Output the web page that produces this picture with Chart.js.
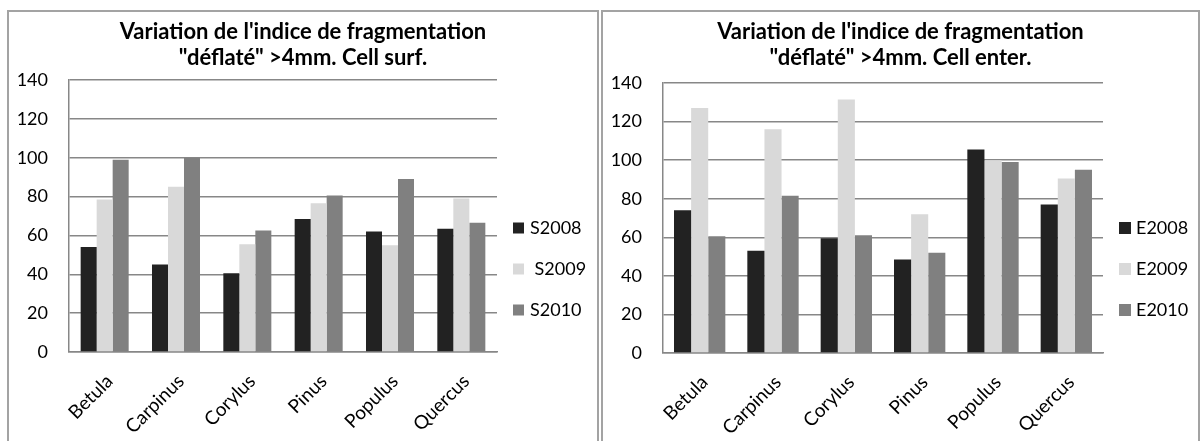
<!DOCTYPE html>
<html>
<head>
<meta charset="utf-8">
<script src="https://cdn.jsdelivr.net/npm/chart.js@4/dist/chart.umd.min.js"></script>
<style>
  html, body { margin: 0; padding: 0; background: #fff; overflow: hidden; width: 1204px; height: 441px; }
  .frame { position: absolute; top: 10px; height: 450px; border: 2px solid #a3a3a3; box-sizing: border-box; }
  #f1 { left: 7px; width: 592px; }
  #f2 { left: 601px; width: 599px; }
  canvas { display: block; }
</style>
</head>
<body>
<div class="frame" id="f1"><canvas id="surf" width="588" height="428"></canvas></div>
<div class="frame" id="f2"><canvas id="enter" width="595" height="428"></canvas></div>
<script>
const categories = ['Betula', 'Carpinus', 'Corylus', 'Pinus', 'Populus', 'Quercus'];

// Cell surf.
const surf2008 = [54, 45, 40.5, 68.5, 62, 63.5];
const surf2009 = [78.5, 85, 55.5, 76.5, 55, 79];
const surf2010 = [99, 100, 62.5, 80.5, 89, 66.5];

// Cell enter.
const enter2008 = [74, 53, 59.5, 48.5, 105.5, 77];
const enter2009 = [127, 116, 131.5, 72, 100, 90.5];
const enter2010 = [60.5, 81.5, 61, 52, 99, 95];

const yMin = 0;
const yMax = 140;
const yStep = 20;

const colors = ['#222222', '#d9d9d9', '#808080'];
const lineGray = '#878787';
const fontFamily = "Lato, 'Open Sans', sans-serif";

// legend drawn next to the plot, like the spreadsheet one
const sideLegend = {
  id: 'sideLegend',
  afterDraw(chart, args, opts) {
    const { ctx, chartArea } = chart;
    ctx.save();
    ctx.font = '18px ' + fontFamily;
    ctx.textBaseline = 'middle';
    chart.data.datasets.forEach((ds, i) => {
      const cy = chartArea.bottom + opts.firstOffset + i * 41;
      const x = chartArea.right + 16;
      ctx.fillStyle = ds.backgroundColor;
      ctx.fillRect(x, cy - opts.box / 2, opts.box, opts.box);
      ctx.fillStyle = '#000';
      ctx.fillText(ds.label, x + 17, cy);
    });
    ctx.restore();
  }
};

function makeChart(id, title, labels, series, o) {
  const ctx = document.getElementById(id).getContext('2d');
  return new Chart(ctx, {
    type: 'bar',
    data: {
      labels: categories,
      datasets: series.map((data, i) => ({
        label: labels[i],
        data,
        backgroundColor: colors[i],
        borderWidth: 0,
        barPercentage: 1,
        categoryPercentage: o.catPct,
      })),
    },
    options: {
      responsive: false,
      animation: false,
      layout: { padding: 0 },
      plugins: {
        legend: { display: false },
        tooltip: { enabled: false },
        title: {
          display: true,
          text: title,
          color: '#000',
          font: { family: fontFamily, size: 22, weight: 'bold', lineHeight: '26px' },
          padding: { top: 7, bottom: o.titleBottom },
        },
        sideLegend: { box: o.box, firstOffset: o.legendOffset },
      },
      scales: {
        x: {
          grid: { display: true, drawOnChartArea: false, drawTicks: false },
          border: { display: true, color: lineGray, width: 1.5 },
          ticks: { color: '#000', font: { family: fontFamily, size: 19 }, minRotation: 45, maxRotation: 45, padding: 18, labelOffset: 5 },
          afterFit(scale) { scale.height = o.xHeight; },
        },
        y: {
          min: yMin,
          max: yMax,
          ticks: { stepSize: yStep, color: '#000', font: { family: fontFamily, size: 18 }, padding: 21 },
          grid: { color: lineGray, lineWidth: 1.5, drawTicks: false },
          border: { display: true, color: lineGray, width: 1.5 },
          afterFit(scale) { scale.width = 60; },
        },
        // empty axis on the right keeps room for the legend
        spacer: {
          type: 'linear',
          position: 'right',
          grid: { display: false },
          border: { display: false },
          ticks: { display: false },
          afterFit(scale) { scale.width = o.right; },
        },
      },
    },
    plugins: [sideLegend],
  });
}

makeChart('surf',
  ["Variation de l'indice de fragmentation", '"déflaté" >4mm. Cell surf.'],
  ['S2008', ' S2009', 'S2010'],
  [surf2008, surf2009, surf2010],
  { right: 100, titleBottom: 9, xHeight: 88, catPct: 0.673, box: 11, legendOffset: -124 });

makeChart('enter',
  ["Variation de l'indice de fragmentation", '"déflaté" >4mm. Cell enter.'],
  ['E2008', 'E2009', 'E2010'],
  [enter2008, enter2009, enter2010],
  { right: 95, titleBottom: 12, xHeight: 87, catPct: 0.70, box: 12, legendOffset: -125 });
</script>
</body>
</html>
